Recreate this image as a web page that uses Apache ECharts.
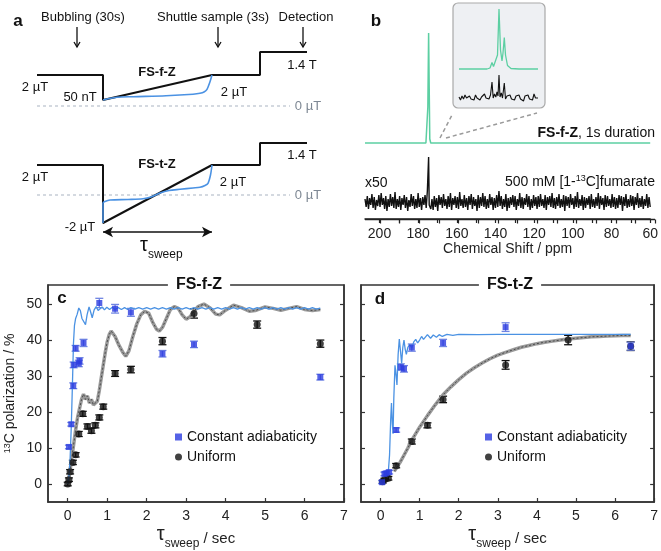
<!DOCTYPE html>
<html><head><meta charset="utf-8">
<script src="https://cdn.jsdelivr.net/npm/echarts@6/dist/echarts.min.js"></script>
<style>html,body{margin:0;padding:0;background:#fff}#c{width:661px;height:551px}</style>
</head><body><div id="c"></div>
<script>
// ---------------- DATA ----------------
// Panel c (FS-f-Z) measurements
const cConstX   = [0.03, 0.09, 0.14, 0.15, 0.2, 0.28, 0.3, 0.4, 0.8, 1.2, 1.6, 2.4, 3.2, 6.4];
const cConstY   = [10.3, 16.6, 27.3, 33.1, 37.7, 33.5, 34.2, 39.2, 50.3, 48.7, 47.7, 36.2, 38.8, 29.7];
const cConstErr = [0.5, 0.5, 0.8, 0.8, 0.8, 0.9, 0.9, 1.0, 1.3, 1.2, 1.1, 0.9, 0.9, 0.8];
const cUniX   = [0, 0.03, 0.06, 0.13, 0.2, 0.28, 0.38, 0.5, 0.6, 0.7, 0.8, 0.9, 1.2, 1.6, 2.4, 3.2, 4.8, 6.4];
const cUniY   = [0, 1.2, 3.4, 6.0, 8.1, 13.9, 19.5, 16.0, 14.8, 16.3, 18.5, 21.5, 30.7, 31.8, 39.7, 47.4, 44.3, 39.0];
const cUniErr = [0.5, 0.5, 0.6, 0.6, 0.6, 0.7, 0.7, 0.7, 0.7, 0.7, 0.7, 0.7, 0.8, 0.9, 1.0, 1.3, 1.0, 1.0];
// Panel d (FS-t-Z) measurements
const dConstX   = [0.04, 0.1, 0.15, 0.22, 0.4, 0.52, 0.6, 0.8, 1.6, 3.2, 6.4];
const dConstY   = [0.5, 2.8, 3.0, 3.3, 15.0, 32.5, 32.0, 37.9, 39.2, 43.6, 38.3];
const dConstErr = [0.4, 0.5, 0.5, 0.5, 0.6, 0.9, 0.9, 1.0, 1.0, 1.2, 1.1];
const dUniX   = [0.05, 0.1, 0.2, 0.4, 0.8, 1.2, 1.6, 3.2, 4.8, 6.4];
const dUniY   = [0.6, 1.2, 1.6, 5.1, 11.8, 16.3, 23.5, 33.1, 40.0, 38.3];
const dUniErr = [0.4, 0.4, 0.5, 0.6, 0.7, 0.7, 0.9, 1.2, 1.3, 1.2];
// Simulations
const cSimConst = [[0,0],[0.03,2],[0.06,7],[0.09,16],[0.12,28],[0.145,39],[0.17,44],[0.2,46],[0.24,47.2],[0.28,48.9],[0.32,48.2],[0.36,46],[0.4,45.5],[0.45,44.3],[0.49,47],[0.54,49.2],[0.58,47.8],[0.62,46.2],[0.67,48.4],[0.72,49.3],[0.77,48.2],[0.82,48.3],[0.87,49.2],[0.93,48.4],[0.99,49.1],[1.06,48.5],[1.13,49.1],[1.2,48.5],[1.28,49],[1.36,48.5],[1.44,49],[1.52,48.5],[1.6,49],[1.7,48.6],[1.8,49],[1.9,48.6],[2.0,49],[2.1,48.6],[2.2,49],[2.3,48.6],[2.4,49],[2.5,48.6],[2.6,49],[2.7,48.6],[2.8,49],[2.9,48.6],[3.0,49],[3.1,48.6],[3.2,49],[3.3,48.6],[3.4,49],[3.5,48.6],[3.6,49],[3.7,48.6],[3.8,49],[3.9,48.6],[4.0,49],[4.1,48.6],[4.2,49],[4.3,48.6],[4.4,49],[4.5,48.6],[4.6,49],[4.7,48.6],[4.8,49],[4.9,48.6],[5.0,49],[5.1,48.6],[5.2,49],[5.3,48.6],[5.4,49],[5.5,48.6],[5.6,49],[5.7,48.6],[5.8,49],[5.9,48.6],[6.0,49],[6.1,48.6],[6.2,49],[6.3,48.6],[6.4,48.9]];
const cSimUni = [[0,0],[0.05,3],[0.1,7],[0.15,11],[0.2,15],[0.25,18.5],[0.3,21],[0.35,23.5],[0.4,25],[0.45,23.5],[0.5,24.5],[0.55,22.5],[0.6,23.5],[0.65,22],[0.7,21.5],[0.75,23],[0.8,26],[0.85,29.5],[0.9,33],[0.95,36.5],[1.0,39.5],[1.05,41.5],[1.1,42.5],[1.15,42],[1.2,41],[1.3,38.5],[1.4,36.5],[1.47,35.5],[1.55,37],[1.65,41],[1.75,44.5],[1.85,47],[1.95,48],[2.05,47.5],[2.15,45],[2.25,43],[2.32,42.5],[2.4,43.5],[2.5,46],[2.6,48.5],[2.7,49.3],[2.8,48.8],[2.9,47],[3.0,45.8],[3.1,46.5],[3.2,48],[3.3,49.3],[3.45,50],[3.6,49],[3.75,47.2],[3.85,47],[4.0,48.3],[4.2,49.7],[4.4,49],[4.6,48],[4.75,48.2],[5.0,49.2],[5.2,48.8],[5.4,48.3],[5.6,48.8],[5.8,49.3],[6.0,48.5],[6.2,48.2],[6.4,48.5]];
const dSimConst = [[0.05,0.5],[0.1,1.5],[0.15,2.5],[0.2,3.5],[0.23,8],[0.26,18],[0.28,22.5],[0.3,17],[0.32,14],[0.34,24],[0.37,33],[0.4,30],[0.42,27.5],[0.45,36],[0.48,40.3],[0.51,37],[0.54,33.5],[0.57,38],[0.6,40],[0.63,37.5],[0.66,36],[0.7,38],[0.75,38.8],[0.8,37.8],[0.85,39.5],[0.9,40.2],[0.95,39.2],[1.0,40],[1.05,41],[1.1,40.2],[1.15,40.5],[1.2,41.5],[1.28,40.5],[1.35,41.4],[1.43,40.8],[1.5,41.5],[1.58,41],[1.7,41.6],[1.85,41.3],[2.0,41.6],[2.5,41.5],[3.0,41.6],[4.0,41.6],[5.0,41.6],[6.4,41.6]];
const dSimUni = [[0.35,3.5],[0.5,6],[0.6,8],[0.7,10],[0.8,12.2],[0.9,14],[1.0,15.8],[1.2,19],[1.4,22],[1.6,24.8],[1.8,27],[2.0,29],[2.2,30.8],[2.4,32.3],[2.6,33.6],[2.8,34.8],[3.0,35.8],[3.2,36.6],[3.4,37.3],[3.6,38],[3.8,38.5],[4.0,39],[4.2,39.4],[4.4,39.7],[4.6,40],[4.8,40.3],[5.0,40.5],[5.2,40.7],[5.4,40.9],[5.6,41],[5.8,41.1],[6.0,41.2],[6.2,41.3],[6.4,41.3]];
const xTicks = [0,1,2,3,4,5,6,7];
const yTicks = [0,10,20,30,40,50];

// Panel b spectra (display units)
const ppmMin = 60, ppmMax = 207.5, ppmLabelStep = 20, specFloor = -17;
const ppmTicks = [200,190,180,170,160,150,140,130,120,110,100,90,80,70,60];
const greenSpec = [[207.5,59],[176,59],[175.3,60],[175,95],[174.6,169],[174.3,115],[174,63],[173.5,59],[60,59]];
const blackPeak = [[174.9,12],[174.6,45],[174.3,-3]];
const noise = [3,-5,6,-7,4,-3,8,-6,5,-8,2,-4,7,-5,9,-3,4,-7,6,-9,3,-5,8,-4,5,-6,10,-7,3,-5,6,-8,4,-3,7,-6,5,-9,2,-5,8,-4,6,-7,3,-6,9,-5,4,-8,5,-3,7,-6,11,-4,5,-7,3,-8,6,-5,4,-9,7,-3,5,-6,8,-4,3,-7,6,-5,9,-8,4,-3,6,-6,5,-7,10,-4,3,-6,7,-5,4,-8,6,-3,8,-7,5,-4,3,-9,7,-6,5,-4,9,-5,6,-7,3,-6,8,-3,5,-8,4,-6,7,-5,11,-4,6,-7,3,-5,8,-9,4,-6,5,-3,7,-5,6,-8,3,-4,9,-6,5,-7,4,-3,8,-5,6,-8,3,-6,7,-4,5,-7,6,-5,8,-4,3,-6,7,-8,5,-3,6,-5,9,-6,4,-7,5,-4,8,-6,3,-5,7,-9,6,-4,5,-6,8,-3,4,-7,6,-5,10,-6,3,-4,7,-8,5,-6,4,-3,6,-7,8,-5,3,-6,5,-4,9,-7,6,-3,4,-8,7,-5,6,-4,3,-6,8,-5,5,-7,4,-6,7,-3,6,-9,5,-4,8,-6,3,-5,7,-4,6,-8,5,-3,9,-6,4,-5,6,-7,3,-4,8,-6,5,-5];
const insetGreen = [[0,36],[28,36],[31,37],[33,42.5],[34.5,38.5],[36.5,38.5],[38.5,50],[40,96],[41.5,55],[43,44],[44,52],[45.3,67.5],[46.5,50],[48.5,39.5],[52,36.5],[60,36],[79,36]];
const insetBlack = [[0,8],[1.5,5],[3,9],[4.5,6],[6,10],[7.5,7],[9,5],[10.5,9],[12,6],[13.5,8],[15,5],[16.5,10],[18,7],[19.5,9],[21,5],[22.5,8],[24,6],[25.5,11],[27,7],[28.5,9],[30,6],[31.5,10],[33,23],[34.2,7],[35.5,11],[36.8,8],[38,13],[39,9],[40,30],[41,8],[42.3,12],[43.5,7],[45.3,22],[46.5,6],[48,9],[49.5,7],[51,10],[52.5,6],[54,8],[55.5,5],[57,9],[58.5,7],[60,10],[61.5,6],[63,8],[64.5,4],[66,9],[67.5,7],[69,10],[70.5,6],[72,8],[73.5,5],[75,11],[76.5,7],[78,9],[79,7]];

// Panel a schematic (time units, display levels)
const schemeT     = [-66, 0, 0, 109, 157, 157, 204];
const schemeFfz   = [31, 31, 6, 31, 31, 54, 54];
const schemeFtz   = [30, 30, -28, 30, 30, 52, 52];
const blueFfzT    = [0, 5, 14, 30, 63, 90, 97, 101, 104, 107, 109];
const blueFfzV    = [6, 7.2, 8.7, 9.3, 10.3, 11.8, 12.7, 14, 16.7, 24.3, 31];
const blueFtzT    = [0, 0, 2, 7, 25, 40, 48, 57, 66, 77, 90, 97, 102, 105, 107.5, 109];
const blueFtzV    = [-28, -8, -6.5, -5, -4.5, -3.8, -2, 2, 4.5, 5.7, 7, 7.7, 9.5, 11.7, 20, 30];
const zeroLineT   = [-66, 187];

// ---------------- HELPERS ----------------
const FONT = "'Liberation Sans', Arial, Helvetica, sans-serif";
const zip = (a, b) => a.map((v, i) => [v, b[i]]);
const errData = (x, y, e) => x.map((v, i) => [v, y[i] - e[i], y[i] + e[i]]);
function errRender(color) {
  return function (params, api) {
    const x = api.value(0), lo = api.value(1), hi = api.value(2);
    const p1 = api.coord([x, lo]), p2 = api.coord([x, hi]);
    const w = 4, st = { stroke: color, lineWidth: 1.3 };
    return { type: 'group', children: [
      { type: 'line', shape: { x1: p1[0], y1: p1[1], x2: p2[0], y2: p2[1] }, style: st },
      { type: 'line', shape: { x1: p1[0] - w, y1: p1[1], x2: p1[0] + w, y2: p1[1] }, style: st },
      { type: 'line', shape: { x1: p2[0] - w, y1: p2[1], x2: p2[0] + w, y2: p2[1] }, style: st }
    ]};
  };
}
const blackData = noise.map((v, i) => [ppmMax - i * ((ppmMax - ppmMin) / (noise.length - 1)), v])
  .filter(p => Math.abs(p[0] - 174.6) > 0.6).concat(blackPeak).sort((a, b) => b[0] - a[0]);

const BLUE = '#2b3be0', BLUE_ERR = '#6f84e2', SIMBLUE = '#4b92e3';
const SPEC_GRID = { left: 365, top: 20, width: 290, height: 199 };

function plotX(grid) {
  return { type: 'value', gridIndex: grid, min: -0.5, max: 7,
    axisLine: { show: true, onZero: false, lineStyle: { color: '#333', width: 1.5 } },
    axisTick: { show: true, inside: true, length: 4, customValues: xTicks, lineStyle: { color: '#333', width: 1.2 } },
    axisLabel: { show: true, customValues: xTicks, fontSize: 14, color: '#222', fontFamily: FONT, margin: 7 },
    splitLine: { show: false },
    name: '{t|τ}{s|sweep}{n| / sec}', nameLocation: 'middle', nameGap: 22,
    nameTextStyle: { fontFamily: FONT, color: '#222', rich: {
      t: { fontSize: 20, fontFamily: FONT, color: '#222', verticalAlign: 'top' },
      s: { fontSize: 12, fontFamily: FONT, color: '#222', padding: [14, 0, 0, 0] },
      n: { fontSize: 15, fontFamily: FONT, color: '#222', padding: [4, 0, 0, 0] } } } };
}
function plotY(grid, pos, labels) {
  const o = { type: 'value', gridIndex: grid, min: -5, max: 55.3, position: pos,
    axisLine: { show: true, onZero: false, lineStyle: { color: '#333', width: 1.5 } },
    axisTick: { show: true, inside: true, length: 4, customValues: yTicks, lineStyle: { color: '#333', width: 1.2 } },
    axisLabel: { show: labels, customValues: yTicks, fontSize: 14, color: '#222', fontFamily: FONT, margin: 6 },
    splitLine: { show: false } };
  if (labels) {
    o.name = '{a|13}{b|C polarization / %}'; o.nameLocation = 'middle'; o.nameGap = 30; o.nameRotate = 90;
    o.nameTextStyle = { fontFamily: FONT, rich: {
      a: { fontSize: 9, fontFamily: FONT, color: '#222', verticalAlign: 'top', padding: [0, 0, 6, 0] },
      b: { fontSize: 14, fontFamily: FONT, color: '#222' } } };
  }
  return o;
}

function txt(x, y, text, opt) {
  opt = opt || {};
  return { type: 'text', x: x, y: y, z: 100, style: Object.assign({
    text: text, font: (opt.bold ? 'bold ' : '') + (opt.size || 13) + 'px ' + FONT,
    fill: opt.color || '#111', align: opt.align || 'center', verticalAlign: 'middle',
    textAlign: opt.align || 'center', textVerticalAlign: 'middle' }, opt.extra || {}) };
}
function downArrow(x, y1, y2) {
  return [
    { type: 'line', z: 100, shape: { x1: x, y1: y1, x2: x, y2: y2 }, style: { stroke: '#111', lineWidth: 1.3 } },
    { type: 'polyline', z: 100, shape: { points: [[x - 3, y2 - 5], [x, y2], [x + 3, y2 - 5]] }, style: { stroke: '#111', lineWidth: 1.3, fill: null } }
  ];
}

// spectrum axis baseline and ticks (ppm -> pixel through the axis' linear mapping)
const specAxisY = SPEC_GRID.top + SPEC_GRID.height + 0.5;
const ppmToPx = v => SPEC_GRID.left + (ppmMax - v) / (ppmMax - ppmMin) * SPEC_GRID.width;
const specAxisGraphics = [{ type: 'line', z: 100, shape: { x1: SPEC_GRID.left, y1: specAxisY, x2: SPEC_GRID.left + SPEC_GRID.width, y2: specAxisY }, style: { stroke: '#222', lineWidth: 1.5 } }]
  .concat(ppmTicks.map(v => { const px = Math.round(ppmToPx(v)) + 0.5;
    return { type: 'line', z: 100, shape: { x1: px, y1: specAxisY, x2: px, y2: specAxisY + 4 }, style: { stroke: '#222', lineWidth: 1.2 } }; }));

const graphics = [
  txt(18, 21, 'a', { bold: true, size: 17 }),
  txt(83, 17, 'Bubbling (30s)'),
  txt(213, 17, 'Shuttle sample (3s)'),
  txt(306, 17, 'Detection'),
  ...downArrow(77, 27, 47), ...downArrow(218, 27, 47), ...downArrow(303, 27, 47),
  txt(35, 87, '2 µT'), txt(80, 97, '50 nT'), txt(157, 72, 'FS-f-Z', { bold: true }),
  txt(234, 92, '2 µT'), txt(302, 65, '1.4 T'), txt(308, 106, '0 µT', { color: '#7d8793' }),
  txt(35, 177, '2 µT'), txt(80, 227, '-2 µT'), txt(157, 164, 'FS-t-Z', { bold: true }),
  txt(233, 182, '2 µT'), txt(302, 155, '1.4 T'), txt(308, 195, '0 µT', { color: '#7d8793' }),
  { type: 'text', x: 140, y: 248, z: 100, style: { text: '{t|τ}{s|sweep}', align: 'left', verticalAlign: 'middle', textAlign: 'left', textVerticalAlign: 'middle',
    rich: { t: { fontSize: 20, fontFamily: FONT, fill: '#111', color: '#111', verticalAlign: 'top' },
            s: { fontSize: 12, fontFamily: FONT, fill: '#111', color: '#111', padding: [14, 0, 0, 0] } } } },
  // panel b
  txt(376, 21, 'b', { bold: true, size: 17 }),
  { type: 'rect', z: 1, shape: { x: 453, y: 3, width: 92, height: 105, r: 5 }, style: { fill: '#eef0f3', stroke: '#a9a9a9', lineWidth: 1.2 } },
  { type: 'line', z: 100, shape: { x1: 440, y1: 138, x2: 452, y2: 115 }, style: { stroke: '#9a9a9a', lineWidth: 1.5, lineDash: [4, 3] } },
  { type: 'line', z: 100, shape: { x1: 446, y1: 138, x2: 537, y2: 113 }, style: { stroke: '#9a9a9a', lineWidth: 1.5, lineDash: [4, 3] } },
  ...specAxisGraphics,
  { type: 'text', x: 655, y: 133, z: 100, style: { text: '{b|FS-f-Z}{n|, 1s duration}', align: 'right', verticalAlign: 'middle', textAlign: 'right', textVerticalAlign: 'middle',
    rich: { b: { fontSize: 14, fontWeight: 'bold', fontFamily: FONT, fill: '#111', color: '#111' }, n: { fontSize: 14, fontFamily: FONT, fill: '#111', color: '#111' } } } },
  { type: 'text', x: 655, y: 182, z: 100, style: { text: '{n|500 mM [1-}{s|13}{n|C]fumarate}', align: 'right', verticalAlign: 'middle', textAlign: 'right', textVerticalAlign: 'middle',
    rich: { n: { fontSize: 14, fontFamily: FONT, fill: '#111', color: '#111' }, s: { fontSize: 9, fontFamily: FONT, fill: '#111', color: '#111', verticalAlign: 'top', padding: [0, 0, 6, 0] } } } },
  txt(365, 183, 'x50', { align: 'left', size: 14 }),
  // panels c,d
  txt(62, 298, 'c', { bold: true, size: 17 }),
  txt(380, 299, 'd', { bold: true, size: 17 }),
  txt(199, 285, 'FS-f-Z', { bold: true, size: 16, extra: { backgroundColor: '#fff', padding: [2, 8] } }),
  txt(510, 285, 'FS-t-Z', { bold: true, size: 16, extra: { backgroundColor: '#fff', padding: [2, 8] } })
];

const option = {
  animation: false,
  backgroundColor: '#fff',
  textStyle: { fontFamily: FONT },
  grid: [
    { left: 37, top: 40, width: 270, height: 80 },
    { left: 37, top: 135, width: 270, height: 100 },
    Object.assign({}, SPEC_GRID),
    { left: 459, top: 5, width: 79, height: 100, z: 5 },
    { left: 48, top: 285, width: 296, height: 218, show: true, borderColor: '#333', borderWidth: 1.5, backgroundColor: 'transparent' },
    { left: 361, top: 285, width: 294, height: 218, show: true, borderColor: '#333', borderWidth: 1.5, backgroundColor: 'transparent' }
  ],
  xAxis: [
    { type: 'value', gridIndex: 0, min: -66, max: 204, show: false },
    { type: 'value', gridIndex: 1, min: -66, max: 204, show: false },
    { type: 'value', gridIndex: 2, min: ppmMin, max: ppmMax, interval: 10, inverse: true, position: 'bottom',
      axisLine: { show: true, onZero: false, lineStyle: { color: '#222', width: 1.5 } },
      axisTick: { show: true, inside: false, length: 4, lineStyle: { color: '#222', width: 1.2 } },
      axisLabel: { show: true, fontSize: 14, color: '#222', fontFamily: FONT, margin: 8, showMaxLabel: false,
        formatter: v => (v % ppmLabelStep === 0 ? String(v) : '') },
      splitLine: { show: false },
      name: 'Chemical Shift / ppm', nameLocation: 'middle', nameGap: 22,
      nameTextStyle: { fontSize: 14, color: '#222', fontFamily: FONT } },
    { type: 'value', gridIndex: 3, min: 0, max: 79, show: false },
    plotX(4), plotX(5)
  ],
  yAxis: [
    { type: 'value', gridIndex: 0, min: -14, max: 66, show: false },
    { type: 'value', gridIndex: 1, min: -40, max: 60, show: false },
    { type: 'value', gridIndex: 2, min: specFloor, max: 182, show: false },
    { type: 'value', gridIndex: 3, min: 0, max: 100, show: false },
    plotY(4, 'left', true), plotY(4, 'right', false),
    plotY(5, 'left', false), plotY(5, 'right', false)
  ],
  legend: [
    { left: 175, top: 430, orient: 'vertical', padding: 0, itemGap: 6, itemWidth: 7, itemHeight: 7,
      textStyle: { fontSize: 14, color: '#111', fontFamily: FONT },
      data: [{ name: 'Constant adiabaticity', icon: 'rect' }, { name: 'Uniform', icon: 'circle' }] },
    { left: 485, top: 430, orient: 'vertical', padding: 0, itemGap: 6, itemWidth: 7, itemHeight: 7,
      textStyle: { fontSize: 14, color: '#111', fontFamily: FONT },
      data: [{ name: 'Constant adiabaticity', icon: 'rect' }, { name: 'Uniform', icon: 'circle' }] }
  ],
  graphic: graphics,
  series: [
    // ---- panel a ----
    { type: 'line', xAxisIndex: 0, yAxisIndex: 0, data: zeroLineT.map(t => [t, 0]), symbol: 'none', lineStyle: { color: '#aab4c2', width: 1, type: [3, 3] } },
    { type: 'line', xAxisIndex: 1, yAxisIndex: 1, data: zeroLineT.map(t => [t, 0]), symbol: 'none', lineStyle: { color: '#aab4c2', width: 1, type: [3, 3] } },
    { type: 'line', xAxisIndex: 0, yAxisIndex: 0, data: zip(schemeT, schemeFfz), symbol: 'none', lineStyle: { color: '#111', width: 2 } },
    { type: 'line', xAxisIndex: 0, yAxisIndex: 0, data: zip(blueFfzT, blueFfzV), symbol: 'none', smooth: 0.3, lineStyle: { color: SIMBLUE, width: 1.6 } },
    { type: 'line', xAxisIndex: 1, yAxisIndex: 1, data: zip(schemeT, schemeFtz), symbol: 'none', lineStyle: { color: '#111', width: 2 },
      markLine: { silent: true, symbol: ['arrow', 'arrow'], symbolSize: [8, 10], label: { show: false },
        lineStyle: { color: '#111', width: 1.5, type: 'solid' },
        data: [[{ coord: [0, -37] }, { coord: [109, -37] }]] } },
    { type: 'line', xAxisIndex: 1, yAxisIndex: 1, data: zip(blueFtzT, blueFtzV), symbol: 'none', smooth: 0.3, lineStyle: { color: SIMBLUE, width: 1.6 } },
    // ---- panel b ----
    { type: 'line', xAxisIndex: 2, yAxisIndex: 2, data: greenSpec, symbol: 'none', lineStyle: { color: '#5ccfa2', width: 1.5 } },
    { type: 'line', xAxisIndex: 2, yAxisIndex: 2, data: blackData, symbol: 'none', lineStyle: { color: '#111', width: 1.4 } },
    { type: 'line', xAxisIndex: 3, yAxisIndex: 3, data: insetGreen, symbol: 'none', z: 6, lineStyle: { color: '#5ccfa2', width: 1.3 } },
    { type: 'line', xAxisIndex: 3, yAxisIndex: 3, data: insetBlack, symbol: 'none', z: 6, lineStyle: { color: '#111', width: 1.1 } },
    // ---- panel c ----
    { type: 'line', xAxisIndex: 4, yAxisIndex: 4, data: cSimUni, symbol: 'none', lineStyle: { color: '#9a9a9a', width: 3.5 } },
    { type: 'line', xAxisIndex: 4, yAxisIndex: 4, data: cSimUni, symbol: 'none', lineStyle: { color: '#4a4a4a', width: 1, type: [2, 2] } },
    { type: 'line', xAxisIndex: 4, yAxisIndex: 4, data: cSimConst, symbol: 'none', lineStyle: { color: SIMBLUE, width: 1.3 } },
    { type: 'custom', xAxisIndex: 4, yAxisIndex: 4, data: errData(cUniX, cUniY, cUniErr), renderItem: errRender('#111'), encode: { x: 0, y: [1, 2] }, z: 3 },
    { type: 'custom', xAxisIndex: 4, yAxisIndex: 4, data: errData(cConstX, cConstY, cConstErr), renderItem: errRender(BLUE_ERR), encode: { x: 0, y: [1, 2] }, z: 3 },
    { name: 'Uniform', type: 'scatter', xAxisIndex: 4, yAxisIndex: 4, data: zip(cUniX, cUniY), symbol: 'circle', symbolSize: 7, itemStyle: { color: '#111' }, z: 4 },
    { name: 'Constant adiabaticity', type: 'scatter', xAxisIndex: 4, yAxisIndex: 4, data: zip(cConstX, cConstY), symbol: 'rect', symbolSize: 6, itemStyle: { color: BLUE }, z: 4 },
    // ---- panel d ----
    { type: 'line', xAxisIndex: 5, yAxisIndex: 6, data: dSimUni, symbol: 'none', lineStyle: { color: '#9a9a9a', width: 3.5 } },
    { type: 'line', xAxisIndex: 5, yAxisIndex: 6, data: dSimUni, symbol: 'none', lineStyle: { color: '#4a4a4a', width: 1, type: [2, 2] } },
    { type: 'line', xAxisIndex: 5, yAxisIndex: 6, data: dSimConst, symbol: 'none', lineStyle: { color: SIMBLUE, width: 1.3 } },
    { type: 'custom', xAxisIndex: 5, yAxisIndex: 6, data: errData(dUniX, dUniY, dUniErr), renderItem: errRender('#111'), encode: { x: 0, y: [1, 2] }, z: 3 },
    { type: 'custom', xAxisIndex: 5, yAxisIndex: 6, data: errData(dConstX, dConstY, dConstErr), renderItem: errRender(BLUE_ERR), encode: { x: 0, y: [1, 2] }, z: 3 },
    { name: 'Uniform', type: 'scatter', xAxisIndex: 5, yAxisIndex: 6, data: zip(dUniX, dUniY), symbol: 'circle', symbolSize: 7, itemStyle: { color: '#111' }, z: 4 },
    { name: 'Constant adiabaticity', type: 'scatter', xAxisIndex: 5, yAxisIndex: 6, data: zip(dConstX, dConstY), symbol: 'rect', symbolSize: 6, itemStyle: { color: BLUE }, z: 4 }
  ]
};
const chart = echarts.init(document.getElementById('c'), null, { renderer: 'canvas' });
chart.setOption(option);
</script>
</body></html>
